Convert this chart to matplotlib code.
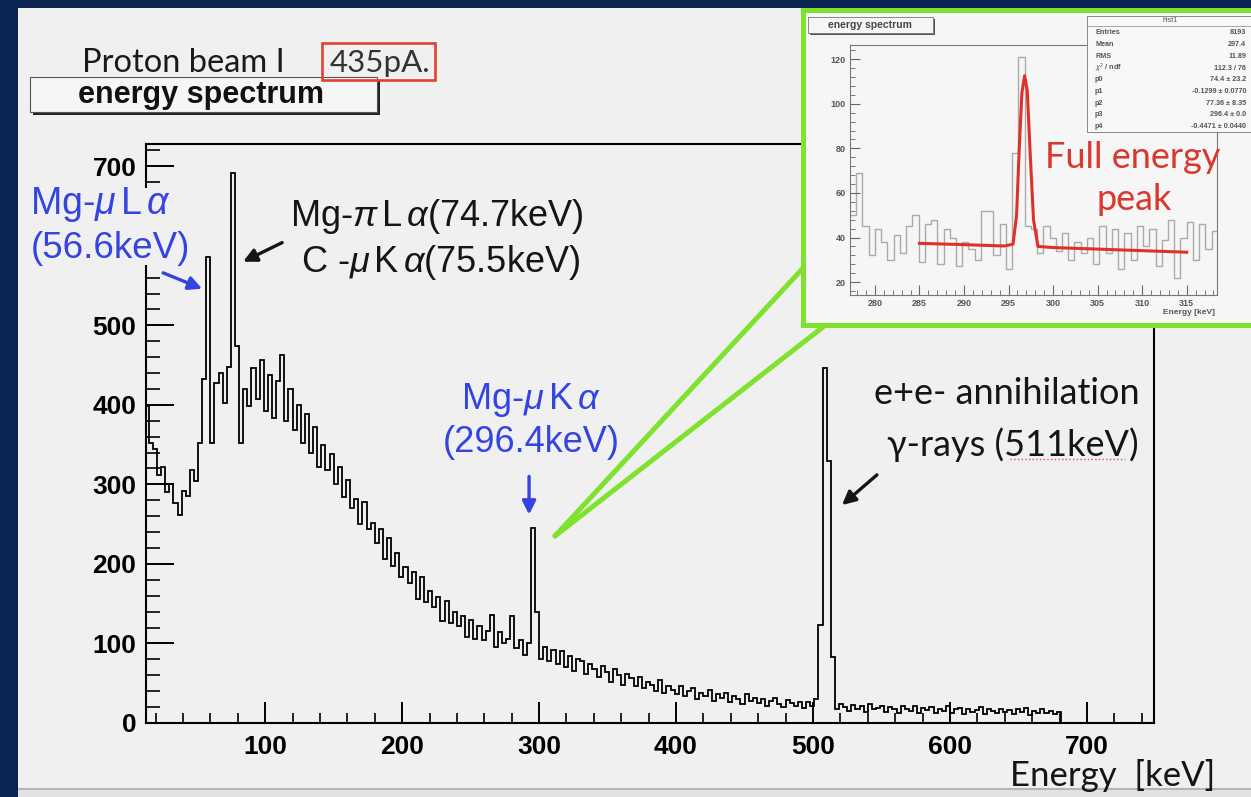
import numpy as np
import matplotlib
matplotlib.use("Agg")
import matplotlib.pyplot as plt
from matplotlib.patches import Rectangle, FancyArrowPatch
from matplotlib.lines import Line2D
from matplotlib.ticker import MultipleLocator

# ---- main spectrum: 3 keV bins starting at 12 keV ----
bin_start = 12.0
bin_width = 3.0
counts = [
    398, 352, 345, 312, 322, 290, 300, 276, 262, 292,   # 12-39
    286, 318, 304, 352, 432, 586, 352, 428, 440, 402,   # 42-69
    448, 692, 474, 352, 420, 398, 446, 408, 456, 392,   # 72-99
    438, 384, 430, 463, 380, 420, 368, 400, 352, 388,   # 102-129
    340, 372, 322, 350, 318, 338, 300, 322, 284, 306,   # 132-159
    270, 282, 250, 278, 244, 252, 226, 244, 206, 232,   # 162-189
    198, 214, 184, 196, 176, 190, 156, 184, 152, 166,   # 192-219
    146, 158, 128, 154, 126, 140, 122, 134, 108, 130,   # 222-249
    106, 122, 104, 116, 136, 96, 114, 100, 106, 134,    # 252-279
    94, 104, 86, 100, 245, 140, 80, 96, 78, 92,         # 282-309
    74, 90, 70, 84, 66, 80, 78, 62, 74, 68,             # 312-339
    58, 72, 64, 52, 68, 60, 48, 62, 56, 46,             # 342-369
    58, 44, 52, 48, 40, 54, 38, 46, 42, 36,             # 372-399
    46, 34, 40, 44, 30, 38, 34, 42, 28, 36,             # 402-429
    32, 38, 26, 34, 30, 24, 36, 28, 31, 25,             # 432-459
    30, 22, 28, 32, 24, 20, 29, 25, 22, 27,             # 462-489
    19, 26, 22, 30, 123, 446, 330, 83, 18, 24,          # 492-519
    20, 15, 23, 18, 21, 14, 24, 17, 19, 22,             # 522-549
    14, 20, 17, 13, 21, 18, 15, 22, 12, 19,             # 552-579
    16, 20, 12, 18, 15, 21, 13, 17, 19, 11,             # 582-609
    18, 14, 16, 20, 11, 17, 15, 12, 18, 14,             # 612-639
    16, 11, 17, 14, 19, 10, 15, 13, 17, 12,             # 642-669
    15, 11, 14,                                         # 672-678
]
y_ticks = [0, 100, 200, 300, 400, 500, 600, 700]
y_labels = ["0", "100", "200", "300", "400", "500", "", "700"]  # 600 hidden under slide text

# ---- inset: zoom on the 296 keV line, 0.7 keV bins from 277.2 keV ----
inset_start = 277.2
inset_width = 0.7
inset_counts = [
    50, 69, 45, 32, 44, 38, 30, 41, 33, 45,
    50, 29, 46, 48, 28, 44, 40, 27, 38, 35,
    30, 52, 52, 32, 46, 26, 78, 121, 45, 44,
    33, 45, 40, 34, 42, 30, 38, 33, 40, 28,
    45, 33, 44, 26, 42, 30, 45, 36, 44, 27,
    39, 48, 22, 40, 47, 30, 46, 35, 43,
]
fit_x = [285.0, 290.0, 294.5, 295.5, 295.9, 296.2, 296.5, 296.8,
         297.1, 297.4, 297.8, 298.3, 300.0, 305.0, 310.0, 315.0]
fit_y = [37.4, 36.8, 36.2, 37.0, 50.0, 80.0, 105.0, 112.6,
         106.0, 80.0, 48.0, 36.0, 35.5, 34.8, 34.1, 33.4]
stats_rows = [
    ("Entries", "8193"),
    ("Mean", "297.4"),
    ("RMS", "11.89"),
    ("$\\chi^2$ / ndf", "112.3 / 76"),
    ("p0", "74.4 \u00b1 23.2"),
    ("p1", "-0.1299 \u00b1 0.0770"),
    ("p2", "77.36 \u00b1 8.35"),
    ("p3", "296.4 \u00b1 0.0"),
    ("p4", "-0.4471 \u00b1 0.0440"),
]

W, H = 1251, 797
BG = "#f0f0f0"
NAVY = "#0c2452"
BLUE = "#3444e0"
GREEN = "#7fe22f"
RED = "#d9382f"

plt.rcParams["font.family"] = ["Liberation Sans", "DejaVu Sans"]
plt.rcParams["mathtext.fontset"] = "custom"
plt.rcParams["mathtext.rm"] = "Liberation Sans"
plt.rcParams["mathtext.it"] = "Liberation Sans:italic"
plt.rcParams["mathtext.bf"] = "Liberation Sans:bold"
SLIDE_FONT = ["Lato", "DejaVu Sans"]


def fx(x):
    return x / W


def fy(y):
    return 1 - y / H


def box(x0, y0, x1, y1):
    return [x0 / W, 1 - y1 / H, (x1 - x0) / W, (y1 - y0) / H]


def rect(x0, y0, x1, y1, **kw):
    r = Rectangle((fx(x0), fy(y1)), (x1 - x0) / W, (y1 - y0) / H,
                  transform=fig.transFigure, **kw)
    fig.add_artist(r)
    return r


def line(pts, **kw):
    l = Line2D([fx(p[0]) for p in pts], [fy(p[1]) for p in pts],
               transform=fig.transFigure, **kw)
    fig.add_artist(l)


fig = plt.figure(figsize=(W / 100, H / 100), dpi=100, facecolor=BG)

# slide frame
rect(0, 0, 18, H, facecolor=NAVY, edgecolor="none", zorder=10)
rect(0, 0, W, 8, facecolor=NAVY, edgecolor="none", zorder=10)
rect(18, 789, W, H, facecolor="#e2e2e2", edgecolor="none", zorder=1)
line([(18, 789), (W, 789)], color="#b5b5b5", lw=1.5, zorder=1)

# ---- main histogram ----
ax = fig.add_axes(box(146, 144, 1154, 723))
ax.set_facecolor(BG)
edges = bin_start + bin_width * np.arange(len(counts) + 1)
ax.stairs(counts, edges, color="black", lw=1.3, baseline=0)
ax.set_xlim(13, 749)
ax.set_ylim(0, 728)
ax.xaxis.set_major_locator(MultipleLocator(100))
ax.xaxis.set_minor_locator(MultipleLocator(20))
ax.set_yticks(y_ticks, labels=y_labels)
ax.yaxis.set_minor_locator(MultipleLocator(20))
ax.tick_params(axis="both", which="both", direction="in", top=False, right=False)
ax.tick_params(axis="x", which="major", length=15, width=1.4, pad=9, labelsize=19)
ax.tick_params(axis="x", which="minor", length=7.5, width=1.2)
ax.tick_params(axis="y", which="major", length=20, width=1.4, pad=7, labelsize=19)
ax.tick_params(axis="y", which="minor", length=10, width=1.2)
for lab in ax.get_xticklabels() + ax.get_yticklabels():
    lab.set_fontweight("bold")
for s in ax.spines.values():
    s.set_linewidth(1.5)

# slide text box that hides part of the y axis
rect(26, 188, 200, 265, facecolor=BG, edgecolor="none", zorder=2)

# ROOT title box
rect(33, 80, 380, 115, facecolor="#222222", edgecolor="none", zorder=2)
rect(30, 77, 377, 112, facecolor="#f6f6f6", edgecolor="#555555", lw=0.8, zorder=2.1)
fig.text(fx(201), fy(95), "energy spectrum", ha="center", va="center",
         fontsize=22, fontweight="bold", color="#111111", zorder=3)

# slide header
fig.text(fx(82), fy(72), "Proton beam I", ha="left", va="baseline",
         fontsize=23.5, family=SLIDE_FONT, color="#1a1a1a")
fig.text(fx(330), fy(72), "435pA.", ha="left", va="baseline",
         fontsize=22.5, family=SLIDE_FONT, color="#333333")
rect(322, 43, 435, 80, facecolor="none", edgecolor="#e0402f", lw=1.9, zorder=3)

# annotations
fig.text(fx(30), fy(205), "Mg-$\\mu\\,$L$\\,\\alpha$", ha="left", va="center",
         fontsize=27, color=BLUE, zorder=3)
fig.text(fx(31), fy(248), "(56.6keV)", ha="left", va="center",
         fontsize=26.5, color=BLUE, zorder=3)
fig.text(fx(437), fy(217), "Mg-$\\pi\\,$L$\\,\\alpha$(74.7keV)", ha="center", va="center",
         fontsize=26, color="#151515", zorder=3)
fig.text(fx(441), fy(262), "C -$\\mu\\,$K$\\,\\alpha$(75.5keV)", ha="center", va="center",
         fontsize=26, color="#151515", zorder=3)
fig.text(fx(531), fy(400), "Mg-$\\mu\\,$K$\\,\\alpha$", ha="center", va="center",
         fontsize=26, color=BLUE, zorder=3)
fig.text(fx(531), fy(442), "(296.4keV)", ha="center", va="center",
         fontsize=26, color=BLUE, zorder=3)
fig.text(fx(1007), fy(393), "e+e- annihilation", ha="center", va="center",
         fontsize=26, family=SLIDE_FONT, color="#151515", zorder=3)
fig.text(fx(1013), fy(445), "\u03b3-rays (511keV)", ha="center", va="center",
         fontsize=26, family=SLIDE_FONT, color="#151515", zorder=3)
line([(1010, 459), (1125, 459)], color="#e05050", lw=1.0, ls=":", zorder=3)
fig.text(fx(1010), fy(776), "Energy  [keV]", ha="left", va="center",
         fontsize=25, family=SLIDE_FONT, color="#151515", zorder=3)


def arrow(p0, p1, color):
    a = FancyArrowPatch(p0, p1, transform=ax.transData, arrowstyle="-|>",
                        mutation_scale=20, lw=2.4, color=color, zorder=4,
                        clip_on=False, shrinkA=0, shrinkB=0)
    fig.add_artist(a)


arrow((25.5, 566), (54.0, 546), BLUE)
arrow((112.4, 604), (83.9, 580), "#151515")
arrow((292.7, 310), (292.7, 262), BLUE)
arrow((546.7, 312), (521.2, 274), "#151515")

# green zoom lines and inset frame
line([(555, 536), (805, 266)], color=GREEN, lw=3.6, solid_capstyle="round", zorder=4)
line([(555, 536), (823, 327)], color=GREEN, lw=3.6, solid_capstyle="round", zorder=4)
rect(803, 10, 1262, 325, facecolor="#f6f6f6", edgecolor=GREEN, lw=3.6, zorder=4)

# ---- inset histogram ----
iax = fig.add_axes(box(850, 45, 1217, 295), zorder=5)
iax.set_facecolor("#f6f6f6")
inset_edges = inset_start + inset_width * np.arange(len(inset_counts) + 1)
iax.stairs(inset_counts, inset_edges, color="#aaaaaa", lw=1.0, baseline=None)
iax.plot(fit_x, fit_y, color="#e0302a", lw=2.2)
iax.set_xlim(277.2, 318.4)
iax.set_ylim(14.2, 126.4)
iax.xaxis.set_major_locator(MultipleLocator(5))
iax.xaxis.set_minor_locator(MultipleLocator(1))
iax.yaxis.set_major_locator(MultipleLocator(20))
iax.yaxis.set_minor_locator(MultipleLocator(4))
iax.tick_params(axis="both", which="both", direction="in", top=False, right=False,
                colors="#666666", labelcolor="#555555", labelsize=6.5)
iax.tick_params(axis="both", which="major", length=7, width=0.8, pad=3)
iax.tick_params(axis="both", which="minor", length=3.5, width=0.6)
for lab in iax.get_xticklabels() + iax.get_yticklabels():
    lab.set_fontweight("bold")
for s in iax.spines.values():
    s.set_linewidth(0.8)
    s.set_color("#777777")
fig.text(fx(1215), fy(313), "Energy [keV]", ha="right", va="center",
         fontsize=6, fontweight="bold", color="#555555", zorder=6)

# inset title box
rect(810, 19, 935, 35, facecolor="#555555", edgecolor="none", zorder=6)
rect(808, 17, 933, 33, facecolor="#f6f6f6", edgecolor="#777777", lw=0.6, zorder=6.1)
fig.text(fx(870), fy(25), "energy spectrum", ha="center", va="center",
         fontsize=7.5, fontweight="bold", color="#444444", zorder=6.2)

# inset stats box
rect(1087, 16, 1255, 132, facecolor="#f8f8f8", edgecolor="#888888", lw=0.7, zorder=6)
line([(1087, 26), (1255, 26)], color="#999999", lw=0.6, zorder=6.1)
fig.text(fx(1170), fy(21), "hist1", ha="center", va="center",
         fontsize=5, color="#555555", zorder=6.2)
for i, (k, v) in enumerate(stats_rows):
    yy = 33 + 11.7 * i
    fig.text(fx(1095), fy(yy), k, ha="left", va="center", fontsize=5.2,
             fontweight="bold", color="#555555", zorder=6.2)
    fig.text(fx(1246), fy(yy), v, ha="right", va="center", fontsize=5.2,
             fontweight="bold", color="#555555", zorder=6.2)

fig.text(fx(1133), fy(157), "Full energy", ha="center", va="center",
         fontsize=26, family=SLIDE_FONT, color=RED, zorder=7)
fig.text(fx(1134), fy(200), "peak", ha="center", va="center",
         fontsize=26, family=SLIDE_FONT, color=RED, zorder=7)

fig.savefig("out.png", dpi=100, facecolor=BG)
